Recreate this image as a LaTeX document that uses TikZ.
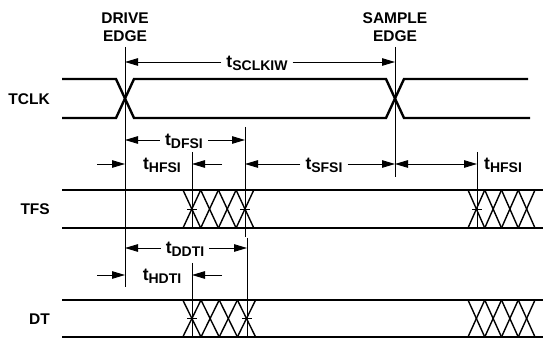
\documentclass[tikz,border=0pt]{standalone}
\usepackage{fontspec}
\setmainfont{Liberation Sans}
\usetikzlibrary{arrows.meta}
\newcommand{\tsig}[1]{t\raisebox{-3.5pt}{\fontsize{14}{14}\selectfont #1}}
\newcommand{\XPattern}[4]{%
  \foreach \i in {0,1,2,3}{%
    \draw[xl] ({#1+\i*#2},#3) -- ({#1+(\i+1)*#2},#4);
    \draw[xl] ({#1+\i*#2},#4) -- ({#1+(\i+1)*#2},#3);
  }}
\begin{document}
\begin{tikzpicture}[x=1pt,y=-1pt,
  sig/.style={line width=2.4pt},
  xl/.style={line width=1.4pt},
  thinl/.style={line width=0.9pt},
  arr/.style={thinl,-{Triangle[length=13pt,width=7.5pt]}},
  darr/.style={thinl,{Triangle[length=13pt,width=7.5pt]}-{Triangle[length=13pt,width=7.5pt]}},
  lbl/.style={font=\fontsize{15.5}{18}\selectfont\bfseries, align=center, inner sep=0pt},
  tl/.style={font=\fontsize{17.5}{18}\selectfont\bfseries, inner xsep=5pt, inner ysep=0pt},
]
\useasboundingbox (0,0) rectangle (544,339);

% labels
\node[lbl] (drive) at (125,27) {DRIVE\\EDGE};
\node[lbl] (sample) at (395,27) {SAMPLE\\EDGE};
\node[lbl, anchor=east] (tclk) at (50,99) {TCLK};
\node[lbl, anchor=east] (tfs) at (50,209) {TFS};
\node[lbl, anchor=east] (dt) at (50,319) {DT};

% reference verticals
\coordinate (deT) at (125,47); \coordinate (deB) at (125,287);
\coordinate (seT) at (395,47); \coordinate (seB) at (395,177);
\coordinate (v1T) at (245,127); \coordinate (v1B) at (245,237);
\coordinate (v2T) at (192,152); \coordinate (v2B) at (192,228);
\coordinate (v3T) at (477,152); \coordinate (v3B) at (477,228);
\coordinate (v4T) at (192,263); \coordinate (v4B) at (192,337);
\coordinate (v5T) at (247,238); \coordinate (v5B) at (247,337);
\foreach \a in {de,se,v1,v2,v3,v4,v5}{\draw[thinl] (\a T) -- (\a B);}

% row coordinates
\coordinate (rS) at (0,62);
\coordinate (rD) at (0,140);
\coordinate (rH) at (0,164);
\coordinate (rDD) at (0,248);
\coordinate (rHD) at (0,275);

% tSCLKIW
\node[tl, anchor=base] (sclk) at (257,67.5) {\tsig{SCLKIW}};
\draw[arr] (sclk.west |- rS) -- (deT |- rS);
\draw[arr] (sclk.east |- rS) -- (seT |- rS);

% tDFSI
\node[tl, anchor=base] (dfsi) at (184,145.5) {\tsig{DFSI}};
\draw[arr] (dfsi.west |- rD) -- (deT |- rD);
\draw[arr] (dfsi.east |- rD) -- (v1T |- rD);

% tHFSI (left)
\node[tl, anchor=base] (hfsi) at (162,169.5) {\tsig{HFSI}};
\coordinate (hA) at (97,164); \coordinate (hB) at (222,164);
\draw[arr] (hA) -- (deT |- rH);
\draw[arr] (hB) -- (v2T |- rH);

% tSFSI
\node[tl, anchor=base] (sfsi) at (324,169.5) {\tsig{SFSI}};
\draw[arr] (sfsi.west |- rH) -- (v1T |- rH);
\draw[arr] (sfsi.east |- rH) -- (seT |- rH);

% tHFSI (right)
\draw[darr] (seT |- rH) -- (v3T |- rH);
\node[tl, anchor=base west] (hfsi2) at (479,169.5) {\tsig{HFSI}};

% tDDTI
\node[tl, anchor=base] (ddti) at (185,253.5) {\tsig{DDTI}};
\draw[arr] (ddti.west |- rDD) -- (deT |- rDD);
\draw[arr] (ddti.east |- rDD) -- (v5T |- rDD);

% tHDTI
\node[tl, anchor=base] (hdti) at (162,280.5) {\tsig{HDTI}};
\coordinate (dA) at (97,275); \coordinate (dB) at (222,275);
\draw[arr] (dA) -- (deT |- rHD);
\draw[arr] (dB) -- (v4T |- rHD);

% TCLK waveform
\draw[sig] (62,79) -- (116,79) -- (134,118) -- (386,118) -- (404,79) -- (528,79);
\draw[sig] (62,118) -- (116,118) -- (134,79) -- (386,79) -- (404,118) -- (530,118);

% TFS waveform
\draw[sig] (62,190) -- (543,190);
\draw[sig] (62,228) -- (543,228);
\XPattern{183}{17.7}{190}{228}
\XPattern{468}{16.75}{190}{228}

% DT waveform
\draw[sig] (62,300) -- (543,300);
\draw[sig] (62,337) -- (543,337);
\XPattern{182.8}{18.2}{300}{337}
\XPattern{468}{16.75}{300}{337}

% ticks at crossings
\draw[thinl] (187,209) -- (197,209);
\draw[thinl] (240,209) -- (250,209);
\draw[thinl] (472,209) -- (482,209);
\draw[thinl] (187,318.5) -- (197,318.5);
\draw[thinl] (242,318.5) -- (252,318.5);
\end{tikzpicture}
\end{document}
